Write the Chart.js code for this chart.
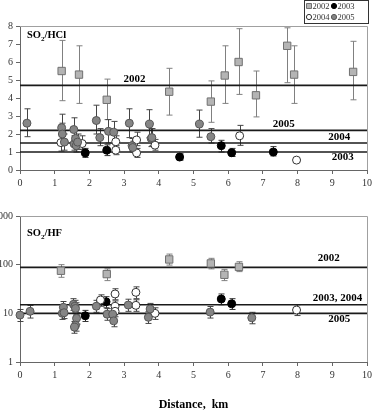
<!DOCTYPE html>
<html>
<head>
<meta charset="utf-8">
<script src="https://cdn.jsdelivr.net/npm/chart.js@4.4.0/dist/chart.umd.min.js"></script>
<style>
  body { margin: 0; background: #fff; }
  #wrap { position: relative; width: 378px; height: 411px; }
  canvas { position: absolute; left: 0; }
</style>
</head>
<body>
<div id="wrap">
  <canvas id="chartHCl" width="378" height="200" style="top:0"></canvas>
  <canvas id="chartHF" width="378" height="211" style="top:200px"></canvas>
</div>
<script>
// --- SO2/HCl (upper panel) ---
var hcl2002X  = [1.2, 1.7, 2.5, 4.3, 5.5, 5.9, 6.3, 6.8, 7.7, 7.9, 9.6];
var hcl2002Y  = [5.5, 5.3, 3.9, 4.35, 3.8, 5.25, 6.0, 4.15, 6.9, 5.3, 5.45];
var hcl2002Lo = [3.85, 3.7, 2.8, 3.05, 2.65, 3.7, 4.2, 2.95, 4.85, 3.7, 3.9];
var hcl2002Hi = [7.2, 6.9, 5.05, 5.65, 4.95, 6.9, 7.85, 5.5, 7.9, 6.9, 7.15];

var hcl2003X  = [1.88, 2.5, 4.6, 5.8, 6.1, 7.3];
var hcl2003Y  = [0.95, 1.1, 0.72, 1.35, 0.96, 1.0];
var hcl2003Lo = [0.7, 0.8, 0.55, 1.0, 0.75, 0.78];
var hcl2003Hi = [1.2, 1.4, 0.9, 1.65, 1.2, 1.3];

var hcl2004X  = [1.18, 1.79, 2.76, 2.76, 3.36, 3.36, 3.89, 6.33, 7.97];
var hcl2004Y  = [1.52, 1.47, 1.57, 1.1, 1.67, 0.95, 1.38, 1.9, 0.55];
var hcl2004Lo = [1.05, 1.15, 1.25, 0.85, 1.35, 0.7, 1.1, 1.37, 0.5];
var hcl2004Hi = [2.0, 1.9, 1.9, 1.35, 2.1, 1.2, 1.7, 2.48, 0.6];

var hcl2005X  = [0.2, 1.2, 1.22, 1.28, 1.55, 1.56, 1.6, 1.62, 1.66, 2.2, 2.3, 2.55, 2.7, 3.15, 3.23, 3.25, 3.73, 3.78, 3.8, 5.17, 5.5];
var hcl2005Y  = [2.6, 2.35, 2.0, 1.55, 2.25, 1.45, 1.75, 1.35, 1.55, 2.75, 1.8, 2.15, 2.1, 2.6, 1.35, 1.25, 2.55, 1.75, 1.8, 2.55, 1.85];
var hcl2005Lo = [1.85, 1.7, 1.5, 1.1, 1.65, 1.1, 1.3, 1.0, 1.15, 2.0, 1.35, 1.5, 1.5, 1.8, 1.05, 1.0, 1.8, 1.3, 1.35, 1.82, 1.5];
var hcl2005Hi = [3.4, 3.1, 2.6, 2.0, 2.9, 1.9, 2.2, 1.75, 2.0, 3.6, 2.3, 2.8, 2.7, 3.4, 1.75, 1.6, 3.35, 2.3, 2.3, 3.33, 2.3];

var hclMeanYears  = ['2002', '2005', '2004', '2003'];
var hclMeanValues = [4.7, 2.2, 1.5, 1.0];
var hclTicksY = [0, 1, 2, 3, 4, 5, 6, 7, 8];

// --- SO2/HF (lower panel) ---
var hf2002X  = [1.18, 2.5, 4.3, 5.5, 5.89, 6.31];
var hf2002Y  = [75, 64, 128, 106, 62, 90];
var hf2002Lo = [55, 47, 98, 82, 47, 72];
var hf2002Hi = [100, 82, 165, 135, 80, 115];

var hf2003X  = [1.88, 2.48, 5.8, 6.1];
var hf2003Y  = [8.9, 17.3, 19.7, 15.7];
var hf2003Lo = [6.8, 13, 15, 12];
var hf2003Hi = [11.5, 22, 25, 20];

var hf2004X  = [2.32, 2.74, 2.74, 2.74, 3.34, 3.34, 3.89, 7.97];
var hf2004Y  = [18.8, 25, 14, 11, 27, 14.6, 10, 11.7];
var hf2004Lo = [14, 19, 10.5, 8.5, 20, 11, 7.5, 9];
var hf2004Hi = [24, 32, 18, 14, 35, 19, 13, 15];

var hf2005X  = [0, 0.29, 1.22, 1.25, 1.27, 1.54, 1.58, 1.6, 1.63, 1.6, 1.57, 2.2, 2.51, 2.67, 2.7, 3.12, 3.7, 3.75, 5.48, 6.68];
var hf2005Y  = [9.2, 11, 10, 13.3, 10.3, 15.3, 14, 12.6, 7.9, 5.7, 5.2, 14, 9.6, 9.6, 7, 14.8, 8.3, 12.3, 10.6, 8.1];
var hf2005Lo = [6.8, 8, 7.5, 10, 7.8, 11.5, 10.5, 9.5, 6, 4.3, 3.9, 10.5, 7.2, 7.2, 5.3, 11, 6.2, 9.2, 8, 6.1];
var hf2005Hi = [12, 14.5, 13, 17.5, 13.5, 20, 18.5, 16.5, 10.3, 7.4, 6.8, 18.5, 12.5, 12.5, 9.1, 19.5, 10.8, 16, 13.8, 10.5];

var hfMeanYears  = ['2002', '2003, 2004', '2005'];
var hfMeanValues = [88, 15, 10];
var hfTicksY = [1, 10, 100, 1000];

var distanceTicks = [0, 1, 2, 3, 4, 5, 6, 7, 8, 9, 10];

var serif = '"Liberation Serif", "DejaVu Serif", serif';

// 年ごとのマーカー
var styles = {
  '2002': { pointStyle: 'rect', radius: 5.2, bg: '#b4b4b4', border: '#707070', err: '#808080' },
  '2003': { pointStyle: 'circle', radius: 4, bg: '#000000', border: '#000000', err: '#333333' },
  '2004': { pointStyle: 'circle', radius: 4, bg: '#ffffff', border: '#333333', err: '#444444' },
  '2005': { pointStyle: 'circle', radius: 4, bg: '#858585', border: '#555555', err: '#444444' }
};

function pts(xs, ys) {
  return xs.map(function (x, i) { return { x: x, y: ys[i] }; });
}

function yearSet(year, xs, ys, lo, hi) {
  var s = styles[year];
  return {
    label: year,
    data: pts(xs, ys),
    errLo: lo,
    errHi: hi,
    errColor: s.err,
    showLine: false,
    pointStyle: s.pointStyle,
    pointRadius: s.radius,
    pointBackgroundColor: s.bg,
    pointBorderColor: s.border,
    pointBorderWidth: 1,
    clip: false,
    order: 1
  };
}

function meanSet(value) {
  return {
    label: 'mean',
    data: [{ x: 0, y: value }, { x: 10, y: value }],
    showLine: true,
    borderColor: '#1a1a1a',
    borderWidth: 1.6,
    pointRadius: 0,
    order: 5
  };
}

// エラーバー
var errorBars = {
  id: 'errorBars',
  beforeDatasetsDraw: function (chart) {
    var ctx = chart.ctx, sx = chart.scales.x, sy = chart.scales.y;
    ctx.save();
    ctx.lineWidth = 1;
    chart.data.datasets.forEach(function (ds) {
      if (!ds.errLo) return;
      ctx.strokeStyle = ds.errColor;
      ds.data.forEach(function (p, j) {
        var px = Math.round(sx.getPixelForValue(p.x)) + 0.5;
        var y1 = sy.getPixelForValue(ds.errLo[j]);
        var y2 = sy.getPixelForValue(ds.errHi[j]);
        ctx.beginPath();
        ctx.moveTo(px, y1); ctx.lineTo(px, y2);
        ctx.moveTo(px - 3, y1); ctx.lineTo(px + 3, y1);
        ctx.moveTo(px - 3, y2); ctx.lineTo(px + 3, y2);
        ctx.stroke();
      });
    });
    ctx.restore();
  }
};

// 枠・タイトル・平均線ラベル・凡例
function decor(cfg) {
  return {
    id: 'decor',
    afterDraw: function (chart) {
      var ctx = chart.ctx, a = chart.chartArea, sx = chart.scales.x, sy = chart.scales.y;
      ctx.save();
      ctx.strokeStyle = '#a0a0a0';
      ctx.lineWidth = 1;
      ctx.beginPath();
      ctx.moveTo(a.left, a.top + 0.5); ctx.lineTo(a.right + 0.5, a.top + 0.5); ctx.lineTo(a.right + 0.5, a.bottom);
      ctx.stroke();

      // title with subscript
      ctx.fillStyle = '#000';
      ctx.textAlign = 'left';
      ctx.textBaseline = 'alphabetic';
      var x = a.left + 7, y = a.top + cfg.titleDy;
      ctx.font = 'bold 10.5px ' + serif;
      ctx.fillText('SO', x, y); x += ctx.measureText('SO').width;
      ctx.font = 'bold 7px ' + serif;
      ctx.fillText('2', x, y + 2.5); x += ctx.measureText('2').width;
      ctx.font = 'bold 10.5px ' + serif;
      ctx.fillText(cfg.titleRest, x, y);

      // mean line labels
      ctx.font = 'bold 11px ' + serif;
      ctx.textAlign = 'center';
      ctx.textBaseline = 'middle';
      cfg.labels.forEach(function (l) {
        ctx.fillText(l.text, sx.getPixelForValue(l.x), sy.getPixelForValue(l.y));
      });

      if (cfg.legend) {
        ctx.strokeStyle = '#333';
        ctx.strokeRect(304.5, 0.5, 64, 23);
        ctx.font = '8.5px ' + serif;
        ctx.textAlign = 'left';
        ctx.textBaseline = 'middle';
        var items = [['2002', 309, 6], ['2003', 334, 6], ['2004', 309, 17], ['2005', 334, 17]];
        items.forEach(function (it) {
          var s = styles[it[0]];
          ctx.fillStyle = s.bg;
          ctx.strokeStyle = s.border;
          ctx.beginPath();
          if (s.pointStyle === 'rect') {
            ctx.rect(it[1] - 2.5, it[2] - 2.5, 5, 5);
          } else {
            ctx.arc(it[1], it[2], 2.6, 0, Math.PI * 2);
          }
          ctx.fill(); ctx.stroke();
          ctx.fillStyle = '#333';
          ctx.fillText(it[0], it[1] + 3.5, it[2] + 0.5);
        });
      }
      ctx.restore();
    }
  };
}

function axisX(height, withTitle) {
  return {
    type: 'linear', min: 0, max: 10,
    afterBuildTicks: function (s) { s.ticks = distanceTicks.map(function (v) { return { value: v }; }); },
    ticks: { font: { family: serif, size: 10 }, color: '#333', padding: 3, maxRotation: 0 },
    grid: { drawOnChartArea: false, tickLength: 4, color: '#666' },
    border: { color: '#666' },
    title: withTitle ? {
      display: true, text: 'Distance,  km', color: '#000',
      font: { family: serif, size: 12, weight: 'bold', lineHeight: 1 },
      padding: { top: 0, bottom: 0 }
    } : { display: false },
    afterFit: function (s) { s.height = height; }
  };
}

function axisY(type, min, max, ticks) {
  return {
    type: type, min: min, max: max,
    afterBuildTicks: function (s) { s.ticks = ticks.map(function (v) { return { value: v }; }); },
    ticks: {
      font: { family: serif, size: 10 }, color: '#333', padding: 3,
      callback: function (v) { return String(v); }
    },
    grid: { drawOnChartArea: false, tickLength: 4, color: '#666' },
    border: { color: '#666' },
    afterFit: function (s) { s.width = 20; }
  };
}

var baseOptions = function (padTop) {
  return {
    responsive: false,
    animation: false,
    layout: { padding: { top: padTop, right: 11, left: 0, bottom: 0 } },
    plugins: { legend: { display: false }, tooltip: { enabled: false } }
  };
};

// 上段
var optHCl = baseOptions(26);
optHCl.scales = { x: axisX(30, false), y: axisY('linear', 0, 8, hclTicksY) };
new Chart(document.getElementById('chartHCl'), {
  type: 'scatter',
  data: {
    datasets: hclMeanValues.map(meanSet).concat([
      yearSet('2002', hcl2002X, hcl2002Y, hcl2002Lo, hcl2002Hi),
      yearSet('2005', hcl2005X, hcl2005Y, hcl2005Lo, hcl2005Hi),
      yearSet('2004', hcl2004X, hcl2004Y, hcl2004Lo, hcl2004Hi),
      yearSet('2003', hcl2003X, hcl2003Y, hcl2003Lo, hcl2003Hi)
    ])
  },
  options: optHCl,
  plugins: [errorBars, decor({
    titleDy: 12, titleRest: '/HCl', legend: true,
    labels: [
      { text: hclMeanYears[0], x: 3.3, y: 5.04 },
      { text: hclMeanYears[1], x: 7.6, y: 2.56 },
      { text: hclMeanYears[2], x: 9.2, y: 1.85 },
      { text: hclMeanYears[3], x: 9.3, y: 0.7 }
    ]
  })]
});

// 下段
var optHF = baseOptions(16);
optHF.scales = { x: axisX(49, true), y: axisY('logarithmic', 1, 1000, hfTicksY) };
new Chart(document.getElementById('chartHF'), {
  type: 'scatter',
  data: {
    datasets: hfMeanValues.map(meanSet).concat([
      yearSet('2002', hf2002X, hf2002Y, hf2002Lo, hf2002Hi),
      yearSet('2005', hf2005X, hf2005Y, hf2005Lo, hf2005Hi),
      yearSet('2004', hf2004X, hf2004Y, hf2004Lo, hf2004Hi),
      yearSet('2003', hf2003X, hf2003Y, hf2003Lo, hf2003Hi)
    ])
  },
  options: optHF,
  plugins: [errorBars, decor({
    titleDy: 20, titleRest: '/HF', legend: false,
    labels: [
      { text: hfMeanYears[0], x: 8.9, y: 135 },
      { text: hfMeanYears[1], x: 9.15, y: 20.3 },
      { text: hfMeanYears[2], x: 9.2, y: 7.5 }
    ]
  })]
});
</script>
</body>
</html>
